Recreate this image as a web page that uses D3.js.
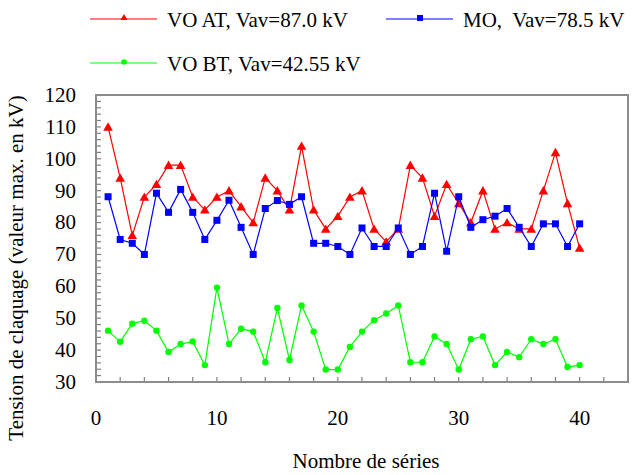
<!DOCTYPE html>
<html><head><meta charset="utf-8">
<script src="https://cdn.jsdelivr.net/npm/d3@7"></script>
</head><body style="margin:0"><svg id="c" width="638" height="475"></svg>
<script>
const seriesIndex = d3.range(1, 41);
const voAT = [110,94,76,88,92,98,98,88,84,88,90,85,80,94,90,84,104,84,78,82,88,90,78,74,78,98,94,82,92,86,80,90,78,80,78,78,90,102,86,72];
const mo = [88.1,74.7,73.5,70,89.2,83.2,90.4,83.2,74.7,80.7,87,78.5,70,84.4,86.9,85.7,88.1,73.5,73.5,72.5,70,78.3,72.5,72.5,78.3,70,72.5,89.2,71,88.1,78.5,80.9,82,84.4,78.5,72.5,79.6,79.6,72.5,79.6];
const voBT = [46.1,42.6,48.3,49.2,46.1,39.4,41.9,42.7,35.3,59.6,41.9,46.7,45.8,36.2,53.2,36.9,54,45.8,33.9,33.9,41,45.8,49.4,51.5,54,36.2,36.2,44.3,41.9,33.9,43.4,44.3,35.3,39.4,37.8,43.4,41.9,43.4,34.7,35.3];
const legendLabels = ["VO AT, Vav=87.0 kV", "MO,  Vav=78.5 kV", "VO BT, Vav=42.55 kV"];
const xTickLabels = [0,10,20,30,40];
const yTickLabels = [30,40,50,60,70,80,90,100,110,120];
const xTitle = "Nombre de séries";
const yTitle = "Tension de claquage (valeur max. en kV)";

const FONT = "'Liberation Serif'";
const FS = 21;
const svg = d3.select("#c");
const L = 96, R = 628, T = 95, B = 382;
const x = d3.scaleLinear().domain([0,44]).range([L,R]);
const y = d3.scaleLinear().domain([30,120]).range([B,T]);

const g = svg.append("g");
g.selectAll(".yt").data(d3.range(30,121,2)).join("line")
  .attr("x1",L).attr("x2",L+5).attr("y1",d=>y(d)).attr("y2",d=>y(d))
  .attr("stroke","#808080").attr("stroke-width",1.2);
g.selectAll(".xt").data(d3.range(0,45,2)).join("line")
  .attr("x1",d=>x(d)).attr("x2",d=>x(d)).attr("y1",B).attr("y2",B-5)
  .attr("stroke","#808080").attr("stroke-width",1.2);

svg.append("rect").attr("x",L).attr("y",T).attr("width",R-L).attr("height",B-T)
  .attr("fill","none").attr("stroke","#8c8c8c").attr("stroke-width",2);

svg.selectAll(".yl").data(yTickLabels).join("text")
  .attr("x",76).attr("y",d=>y(d)).attr("dy","0.33em").attr("text-anchor","end")
  .attr("font-size",FS).style("font-family",FONT).text(d=>d);
svg.selectAll(".xl").data(xTickLabels).join("text")
  .attr("x",d=>x(d)).attr("y",425).attr("text-anchor","middle")
  .attr("font-size",FS).style("font-family",FONT).text(d=>d);

svg.append("text").attr("x",366).attr("y",468).attr("text-anchor","middle").attr("font-size",FS).style("font-family",FONT).text(xTitle);
svg.append("text").attr("transform","translate(23,268) rotate(-90)").attr("text-anchor","middle").attr("font-size",FS).style("font-family",FONT).text(yTitle);

const series = [
  {vals:voAT, color:"#ff0000", shape:"tri"},
  {vals:mo, color:"#0000ff", shape:"sq"},
  {vals:voBT, color:"#00ff00", shape:"circ"}
];
const line = d3.line().x((d,i)=>x(seriesIndex[i])).y(d=>y(d));
function marker(sel, shape, color, big){
  if(shape==="tri") sel.append("path").attr("d",d3.symbol(d3.symbolTriangle, big?40:22)()).attr("fill",color);
  else if(shape==="sq") sel.append("rect").attr("x",big?-3.5:-3).attr("y",big?-3.5:-3).attr("width",big?7:6).attr("height",big?7:6).attr("fill",color);
  else sel.append("circle").attr("r",big?3.2:2.8).attr("fill",color);
}
series.forEach(s=>{
  svg.append("path").datum(s.vals).attr("d",line).attr("fill","none").attr("stroke",s.color).attr("stroke-width",1.2);
  s.vals.forEach((v,i)=>{
    const m = svg.append("g").attr("transform",`translate(${x(seriesIndex[i])},${y(v)+(s.shape==="tri"?1:0)})`);
    marker(m,s.shape,s.color,true);
  });
});

const leg = [
  {x0:90, y0:19, s:series[0], t:legendLabels[0]},
  {x0:386, y0:19, s:series[1], t:legendLabels[1]},
  {x0:90, y0:63, s:series[2], t:legendLabels[2]}
];
leg.forEach(l=>{
  svg.append("line").attr("x1",l.x0).attr("x2",l.x0+67).attr("y1",l.y0).attr("y2",l.y0).attr("stroke",l.s.color).attr("stroke-width",1.2);
  const m = svg.append("g").attr("transform",`translate(${l.x0+34},${l.y0-1})`);
  marker(m,l.s.shape,l.s.color,false);
  svg.append("text").attr("x",l.x0+77).attr("y",l.y0+8).attr("font-size",FS).style("font-family",FONT).style("white-space","pre").text(l.t);
});
</script></body></html>
